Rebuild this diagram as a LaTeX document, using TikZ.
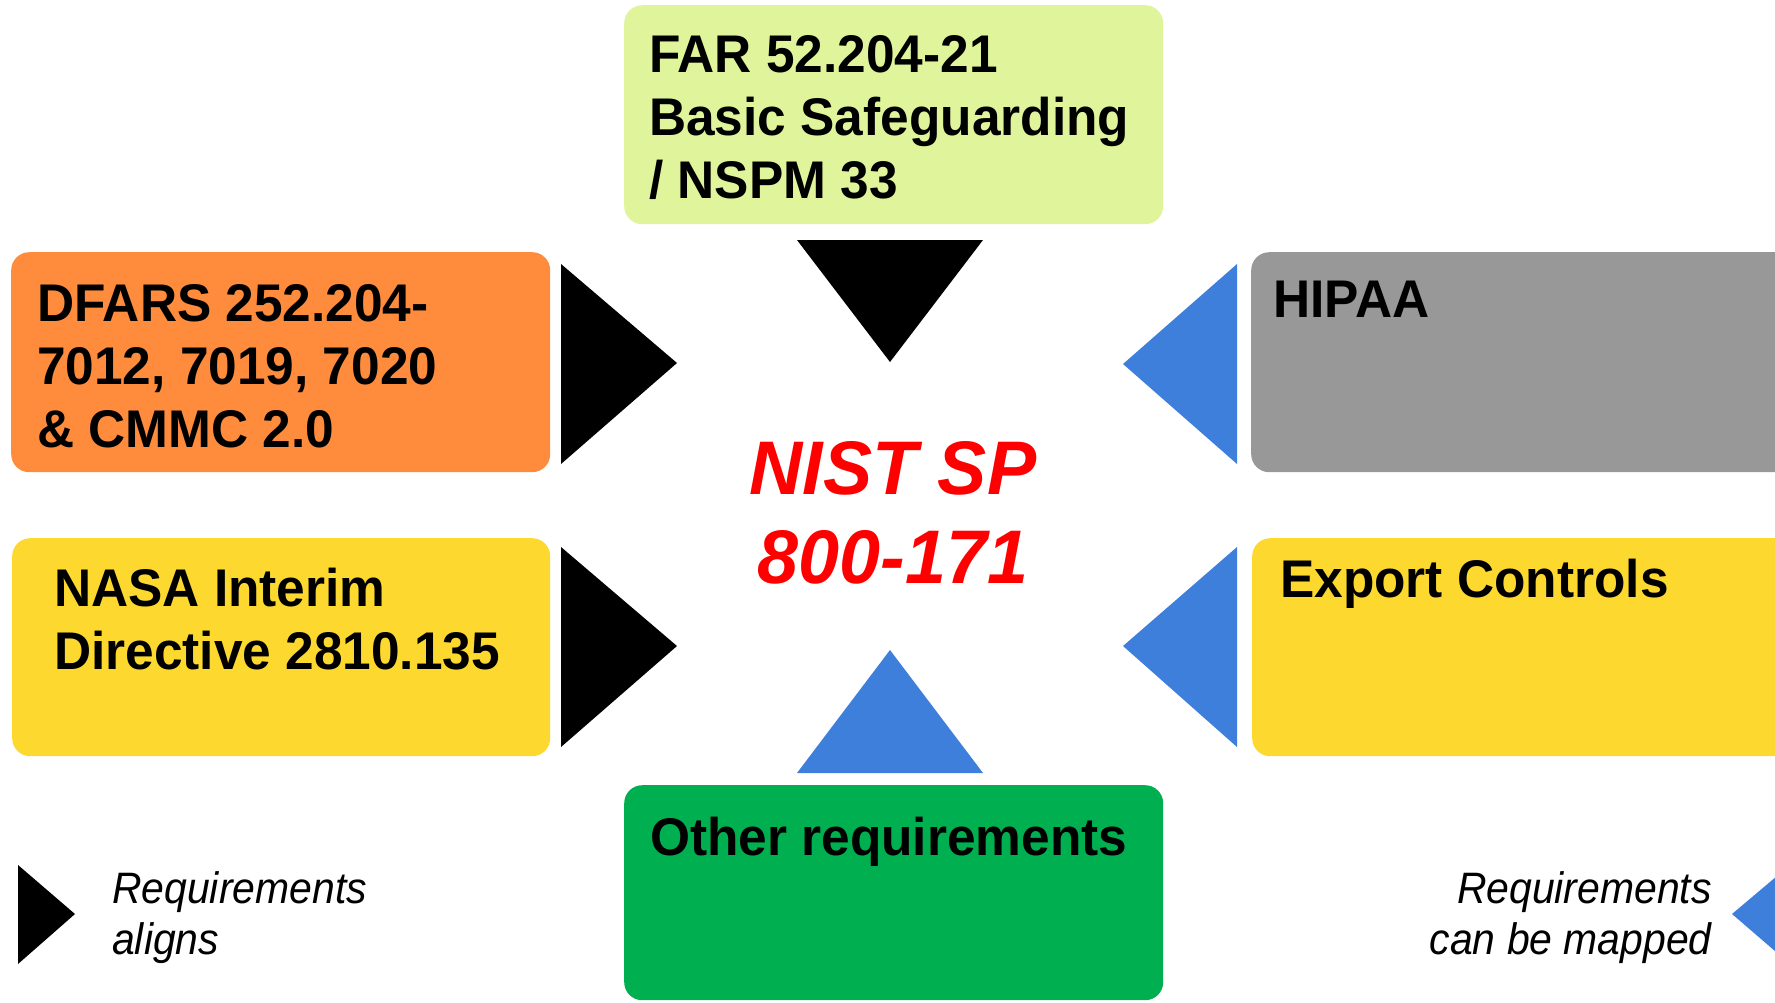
\documentclass[tikz,border=0pt]{standalone}
\usepackage{fontspec}
\setmainfont[FakeStretch=0.97]{Liberation Sans}
\newfontfamily\legfont[FakeStretch=0.93]{Liberation Sans}
\definecolor{farc}{HTML}{E0F59B}
\definecolor{orangec}{HTML}{FF8B3D}
\definecolor{grayc}{HTML}{989898}
\definecolor{yellowc}{HTML}{FDD92F}
\definecolor{greenc}{HTML}{00B050}
\definecolor{bluec}{HTML}{3E7FDB}
\definecolor{redc}{HTML}{FF0000}
\begin{document}
\begin{tikzpicture}[x=1pt,y=-1pt,
  box/.style={rectangle, rounded corners=18pt, draw=none, inner sep=0pt, anchor=north west},
  lbl/.style={inner sep=0pt, align=left, anchor=base west, font=\fontsize{53}{63}\selectfont\bfseries},
  leg/.style={inner sep=0pt, font=\legfont\fontsize{44}{51}\selectfont\itshape}]
\useasboundingbox (0,0) rectangle (1775,1002);
\clip (0,0) rectangle (1775,1002);
% boxes
\node[box, fill=farc, minimum width=539pt, minimum height=219pt] (far) at (624,5) {};
\node[box, fill=orangec, minimum width=539pt, minimum height=220pt] (dfars) at (11,252) {};
\node[box, fill=grayc, minimum width=560pt, minimum height=220pt] (hipaa) at (1251,252) {};
\node[box, fill=yellowc, minimum width=538pt, minimum height=218pt] (nasa) at (12,538) {};
\node[box, fill=yellowc, minimum width=560pt, minimum height=218pt] (export) at (1252,538) {};
\node[box, fill=greenc, minimum width=539pt, minimum height=215pt] (other) at (624,785) {};
% labels (anchor = baseline of last line)
\node[lbl] (fart) at (649,198) {FAR 52.204-21\\Basic Safeguarding\\/ NSPM 33};
\node[lbl] (dfarst) at (37,447) {DFARS 252.204-\\7012, 7019, 7020\\\& CMMC 2.0};
\node[lbl] (hipaat) at (1273,317) {HIPAA};
\node[lbl] (nasat) at (54,669) {NASA Interim\\Directive 2810.135};
\node[lbl] (exportt) at (1280,597) {Export Controls};
\node[lbl] (othert) at (650,855) {Other requirements};
% center
\node[inner sep=0pt, align=center, anchor=base, text=redc,
  font=\fontsize{76}{89}\selectfont\bfseries\itshape] (nist) at (893,583) {NIST SP\\800-171};
% triangles
\fill[black] (797,240) -- (983,240) -- (890,362) -- cycle;
\fill[black] (561,264) -- (677,363) -- (561,464) -- cycle;
\fill[black] (561,547) -- (677,646) -- (561,747) -- cycle;
\fill[bluec] (1237,264) -- (1123,364) -- (1237,464) -- cycle;
\fill[bluec] (1237,547) -- (1123,646) -- (1237,747) -- cycle;
\fill[bluec] (797,773) -- (983,773) -- (890,650) -- cycle;
% legend
\fill[black] (18,865) -- (75,914) -- (18,964) -- cycle;
\node[leg, align=left, anchor=base west] (lega) at (112,954) {Requirements\\aligns};
\node[leg, align=right, anchor=base east] (legb) at (1712,954) {Requirements\\can be mapped};
\fill[bluec] (1732,914) -- (1790,865) -- (1790,964) -- cycle;
\end{tikzpicture}
\end{document}
